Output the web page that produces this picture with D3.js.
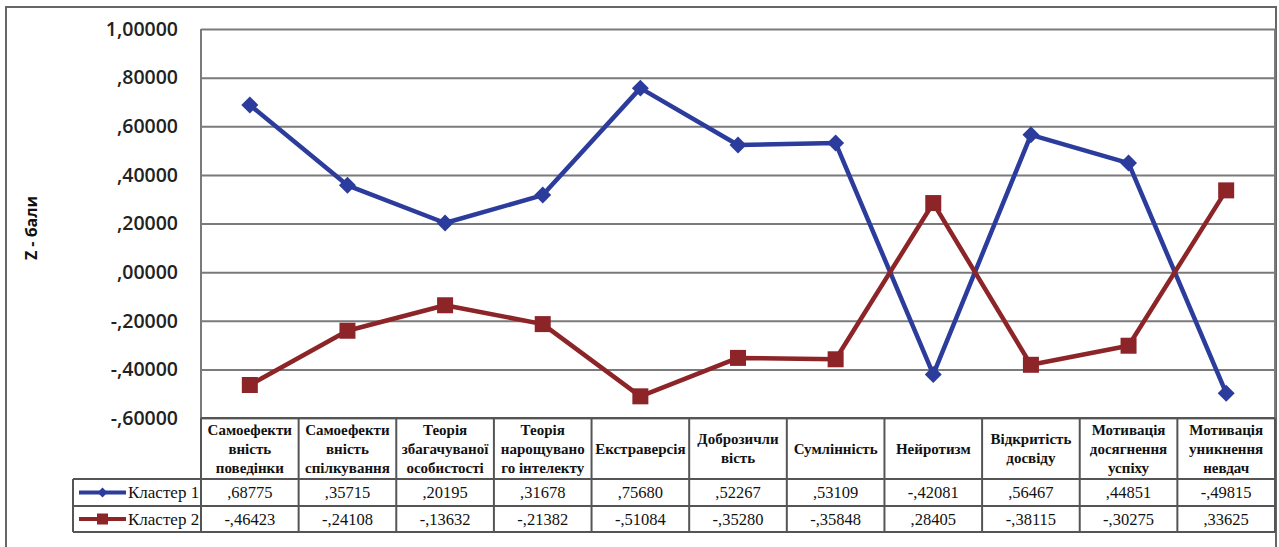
<!DOCTYPE html>
<html>
<head>
<meta charset="utf-8">
<script src="https://cdn.jsdelivr.net/npm/d3@7/dist/d3.min.js"></script>
<style>
  body { margin: 0; background: #fff; }
  svg { display: block; }
  .serif { font-family: "Liberation Serif", "Times New Roman", serif; }
</style>
</head>
<body>
<svg id="chart" width="1279" height="547"></svg>
<script>
// categories (table header lines)
const categories = [
  ["Самоефекти", "вність", "поведінки"],
  ["Самоефекти", "вність", "спілкування"],
  ["Теорія", "збагачуваної", "особистості"],
  ["Теорія", "нарощувано", "го інтелекту"],
  ["Екстраверсія"],
  ["Доброзичли", "вість"],
  ["Сумлінність"],
  ["Нейротизм"],
  ["Відкритість", "досвіду"],
  ["Мотивація", "досягнення", "успіху"],
  ["Мотивація", "уникнення", "невдач"]
]
const seriesNames = ["Кластер 1", "Кластер 2"]
const cluster1 = [0.68775, 0.35715, 0.20195, 0.31678, 0.75680, 0.52267, 0.53109, -0.42081, 0.56467, 0.44851, -0.49815]
const cluster2 = [-0.46423, -0.24108, -0.13632, -0.21382, -0.51084, -0.35280, -0.35848, 0.28405, -0.38115, -0.30275, 0.33625]
const yTicks = [-0.6, -0.4, -0.2, 0, 0.2, 0.4, 0.6, 0.8, 1.0]

const blue = "#2b3c9c", red = "#8c2428", grid = "#7a7a7a"
const svg = d3.select("#chart")

// comma decimal, no leading zero, like ",68775" / "-,46423"
function fmt(v) {
  let s = Math.abs(v).toFixed(5).replace(".", ",")
  if (s.startsWith("0,")) s = s.slice(1)
  return (v < 0 ? "-" : "") + s
}

const plotLeft = 201, plotRight = 1275, plotTop = 29, plotBottom = 418
const keys = categories.map((c, i) => i)
const x = d3.scaleBand().domain(keys).range([plotLeft, plotRight])
const y = d3.scaleLinear().domain([-0.6, 1.0]).range([plotBottom, plotTop])

// outer frame
svg.append("rect")
  .attr("x", 6).attr("y", 7).attr("width", 1270).attr("height", 545)
  .attr("fill", "none").attr("stroke", "#666").attr("stroke-width", 2)

// gridlines + tick labels
const yAxis = svg.append("g")
  .attr("transform", `translate(${plotLeft},0)`)
  .call(d3.axisLeft(y).tickValues(yTicks).tickSize(-(plotRight - plotLeft)).tickPadding(23).tickFormat(fmt))
yAxis.select(".domain").remove()
yAxis.selectAll(".tick line").attr("stroke", grid).attr("stroke-width", 2)
yAxis.selectAll(".tick text")
  .attr("font-family", "'Open Sans', sans-serif")
  .attr("font-weight", 600)
  .attr("font-size", 19.5)
  .attr("fill", "#222")

// plot area sides
svg.append("line").attr("x1", plotLeft).attr("x2", plotLeft).attr("y1", plotTop).attr("y2", plotBottom)
  .attr("stroke", grid).attr("stroke-width", 2)
svg.append("line").attr("x1", plotRight).attr("x2", plotRight).attr("y1", plotTop).attr("y2", plotBottom)
  .attr("stroke", grid).attr("stroke-width", 2)

// y title
svg.append("text")
  .attr("transform", "translate(37,228) rotate(-90)")
  .attr("text-anchor", "middle")
  .attr("font-family", "'Open Sans', sans-serif")
  .attr("font-weight", 700)
  .attr("font-size", 16)
  .attr("fill", "#111")
  .text("Z - бали")

// lines
const line = d3.line().x((d, i) => x(i) + x.bandwidth() / 2).y(d => y(d))
svg.append("path").datum(cluster1).attr("d", line)
  .attr("fill", "none").attr("stroke", blue).attr("stroke-width", 4.5).attr("stroke-linejoin", "round")
svg.append("path").datum(cluster2).attr("d", line)
  .attr("fill", "none").attr("stroke", red).attr("stroke-width", 4.5).attr("stroke-linejoin", "round")

// markers
svg.append("g").selectAll("path").data(cluster1).enter().append("path")
  .attr("transform", (d, i) => `translate(${x(i) + x.bandwidth() / 2},${y(d)}) rotate(45)`)
  .attr("d", "M-6,-6H6V6H-6Z")
  .attr("fill", blue)
svg.append("g").selectAll("rect").data(cluster2).enter().append("rect")
  .attr("x", (d, i) => x(i) + x.bandwidth() / 2 - 8)
  .attr("y", d => y(d) - 8)
  .attr("width", 16).attr("height", 16)
  .attr("fill", red)

// data table
const headTop = 418, headBottom = 479, row1Bottom = 506, row2Bottom = 532, legLeft = 73
const tbl = svg.append("g").attr("class", "serif")
const tline = (x1, y1, x2, y2) => tbl.append("line")
  .attr("x1", x1).attr("y1", y1).attr("x2", x2).attr("y2", y2)
  .attr("stroke", "#555").attr("stroke-width", 2)

tline(plotLeft, headTop, plotRight, headTop)
tline(legLeft, headBottom, plotRight, headBottom)
tline(legLeft, row1Bottom, plotRight, row1Bottom)
tline(legLeft, row2Bottom, plotRight, row2Bottom)
tline(legLeft, headBottom, legLeft, row2Bottom)
keys.forEach(i => tline(x(i), headTop, x(i), row2Bottom))
tline(plotRight, headTop, plotRight, row2Bottom)

// header text
categories.forEach((lines, i) => {
  const cx = x(i) + x.bandwidth() / 2
  const mid = (headTop + headBottom) / 2
  const lh = 19
  lines.forEach((t, j) => {
    tbl.append("text")
      .attr("x", cx)
      .attr("y", mid + (j - (lines.length - 1) / 2) * lh + 5)
      .attr("text-anchor", "middle")
      .attr("font-weight", 700)
      .attr("font-size", 15)
      .attr("fill", "#111")
      .text(t)
  })
})

// value rows
const rows = [
  { name: seriesNames[0], vals: cluster1, color: blue, top: headBottom, bottom: row1Bottom, mark: "diamond" },
  { name: seriesNames[1], vals: cluster2, color: red, top: row1Bottom, bottom: row2Bottom, mark: "square" }
]
rows.forEach(r => {
  const cy = (r.top + r.bottom) / 2
  r.vals.forEach((v, i) => {
    tbl.append("text")
      .attr("x", x(i) + x.bandwidth() / 2)
      .attr("y", cy + 5.5)
      .attr("text-anchor", "middle")
      .attr("font-size", 16.5)
      .attr("fill", "#111")
      .text(fmt(v))
  })
  // legend key
  tbl.append("line").attr("x1", 79).attr("x2", 126).attr("y1", cy).attr("y2", cy)
    .attr("stroke", r.color).attr("stroke-width", 4)
  if (r.mark === "diamond") {
    tbl.append("path").attr("transform", `translate(102.5,${cy}) rotate(45)`)
      .attr("d", "M-3.5,-3.5H3.5V3.5H-3.5Z").attr("fill", r.color)
  } else {
    tbl.append("rect").attr("x", 97).attr("y", cy - 5.5).attr("width", 11).attr("height", 11).attr("fill", r.color)
  }
  tbl.append("text")
    .attr("x", 128).attr("y", cy + 5.5)
    .attr("font-size", 17)
    .attr("fill", "#111")
    .text(r.name)
})
</script>
</body>
</html>
